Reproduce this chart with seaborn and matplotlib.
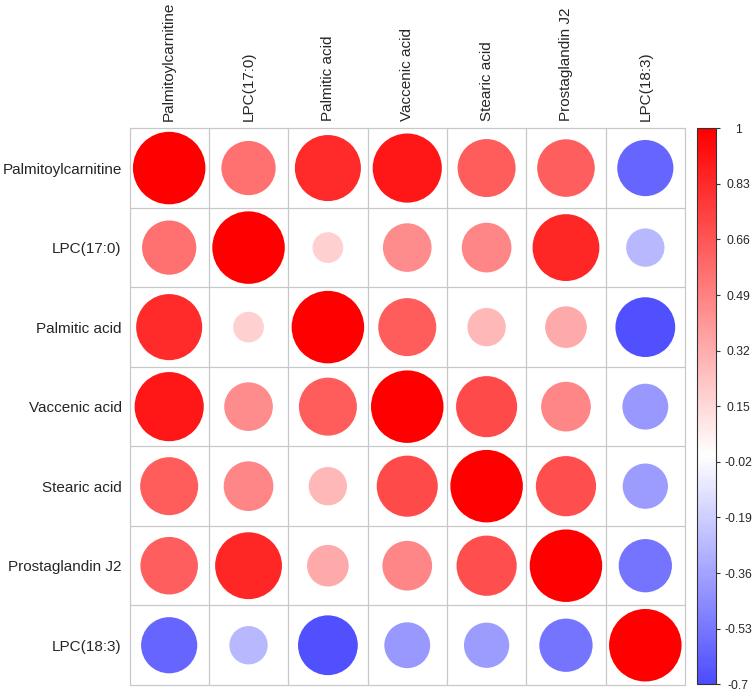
import numpy as np
import pandas as pd
import matplotlib
matplotlib.use("Agg")
import matplotlib.pyplot as plt
import seaborn as sns
from matplotlib.colors import LinearSegmentedColormap, Normalize
from matplotlib.cm import ScalarMappable

# ---- data ----
metabolites = ["Palmitoylcarnitine", "LPC(17:0)", "Palmitic acid", "Vaccenic acid",
               "Stearic acid", "Prostaglandin J2", "LPC(18:3)"]
r_palmitoylcarnitine = [1.00, 0.56, 0.83, 0.91, 0.64, 0.63, -0.60]
r_lpc170 = [0.56, 1.00, 0.18, 0.45, 0.47, 0.85, -0.28]
r_palmitic = [0.83, 0.18, 1.00, 0.64, 0.28, 0.33, -0.68]
r_vaccenic = [0.91, 0.45, 0.64, 1.00, 0.71, 0.47, -0.40]
r_stearic = [0.64, 0.47, 0.28, 0.71, 1.00, 0.69, -0.39]
r_prostaglandin = [0.63, 0.85, 0.33, 0.47, 0.69, 1.00, -0.54]
r_lpc183 = [-0.60, -0.28, -0.68, -0.40, -0.39, -0.54, 1.00]
cbar_ticks = [1, 0.83, 0.66, 0.49, 0.32, 0.15, -0.02, -0.19, -0.36, -0.53, -0.7]
cbar_tick_labels = ["1", "0.83", "0.66", "0.49", "0.32", "0.15", "-0.02", "-0.19",
                    "-0.36", "-0.53", "-0.7"]

corr_rows = [r_palmitoylcarnitine, r_lpc170, r_palmitic, r_vaccenic,
             r_stearic, r_prostaglandin, r_lpc183]

records = []
for i, row in enumerate(corr_rows):
    for j, v in enumerate(row):
        records.append({"col": j, "row": i, "r": v, "absr": abs(v)})
df = pd.DataFrame(records)

sns.set_style("white")
plt.rcParams["font.family"] = ["Liberation Sans", "DejaVu Sans"]

full_cmap = LinearSegmentedColormap.from_list("bwr_c", ["#0000ff", "#ffffff", "#ff0000"])

W, H = 754, 691
fig = plt.figure(figsize=(W / 100, H / 100), dpi=100)
gx0, gx1, gy0, gy1 = 129.5, 685.0, 128.3, 685.0
ax = fig.add_axes([gx0 / W, 1 - gy1 / H, (gx1 - gx0) / W, (gy1 - gy0) / H])

n = len(metabolites)
smax = (72.5 * 72 / 100) ** 2
sns.scatterplot(data=df, x="col", y="row", hue="r", palette=full_cmap, hue_norm=(-1, 1),
                size="absr", sizes=(0, smax), size_norm=(0, 1), marker="o",
                linewidth=0, legend=False, ax=ax, zorder=3)

ax.set_xlim(-0.5, n - 0.5)
ax.set_ylim(n - 0.5, -0.5)
for k in range(n + 1):
    ax.axhline(k - 0.5, color="#c8c8c8", lw=0.9, zorder=1, clip_on=False)
    ax.axvline(k - 0.5, color="#c8c8c8", lw=0.9, zorder=1, clip_on=False)
for s in ax.spines.values():
    s.set_visible(False)

ax.set_xticks(range(n))
ax.set_xticklabels(metabolites, rotation=90, fontsize=11)
ax.set_yticks(range(n))
ax.set_yticklabels(metabolites, fontsize=11)
ax.xaxis.tick_top()
ax.tick_params(axis="x", length=0, pad=5)
ax.tick_params(axis="y", length=0, pad=5.6)
ax.set_xlabel("")
ax.set_ylabel("")

# colorbar
cx0, cx1, cy0, cy1 = 696.7, 715.8, 128.3, 684.3
cax = fig.add_axes([cx0 / W, 1 - cy1 / H, (cx1 - cx0) / W, (cy1 - cy0) / H])
lo, hi = min(cbar_ticks), max(cbar_ticks)
trunc = LinearSegmentedColormap.from_list(
    "trunc", full_cmap(np.linspace((lo + 1) / 2, (hi + 1) / 2, 256)))
sm = ScalarMappable(norm=Normalize(lo, hi), cmap=trunc)
cb = fig.colorbar(sm, cax=cax, ticks=cbar_ticks)
cb.ax.set_yticklabels(cbar_tick_labels)
cb.outline.set_edgecolor("#333333")
cb.outline.set_linewidth(0.8)
cax.tick_params(axis="y", length=3, width=0.8, color="#333333", labelsize=8.8, pad=13.3)
for lab in cax.get_yticklabels():
    lab.set_horizontalalignment("center")

fig.savefig("out.png", dpi=100)
